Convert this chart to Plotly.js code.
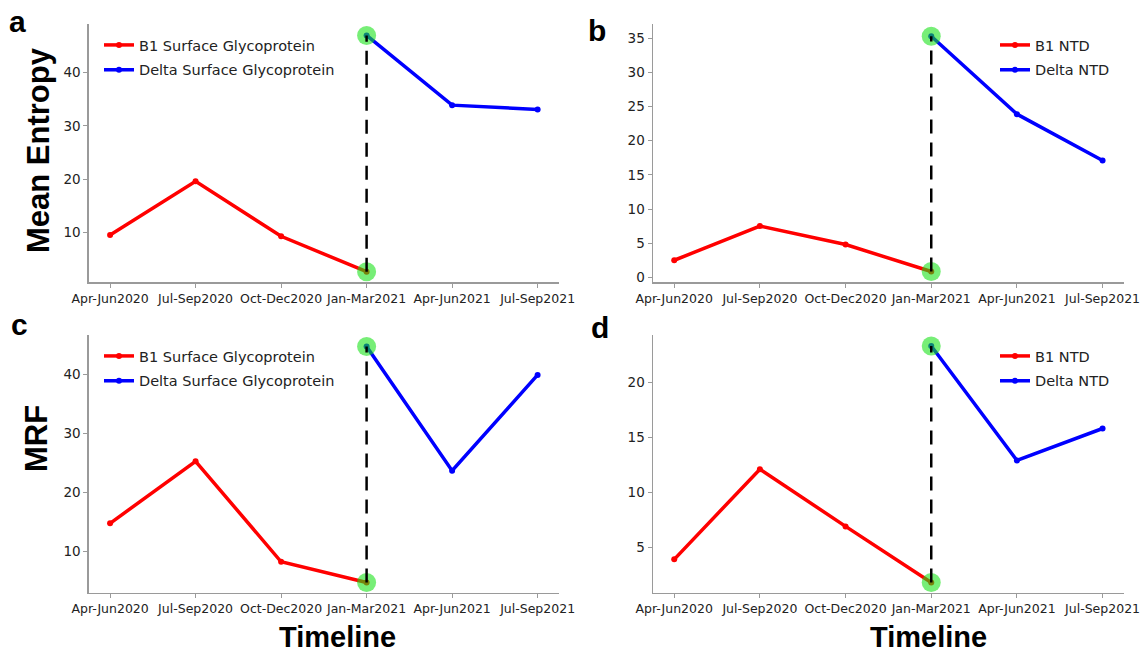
<!DOCTYPE html>
<html>
<head>
<meta charset="utf-8">
<script src="https://cdn.plot.ly/plotly-3.0.1.min.js"></script>
<style>html,body{margin:0;padding:0;background:#fff;}#chart{width:1140px;height:653px;}</style>
</head>
<body>
<div id="chart"></div>
<script>
// ---- data ----
const categories = ['Apr-Jun2020','Jul-Sep2020','Oct-Dec2020','Jan-Mar2021','Apr-Jun2021','Jul-Sep2021'];
const b1Periods = categories.slice(0, 4);
const deltaPeriods = categories.slice(3);
const transitionPeriod = 'Jan-Mar2021';

const entropyB1Surface = [9.5, 19.6, 9.25, 2.6];
const entropyDeltaSurface = [47.0, 33.9, 33.1];
const entropyB1NTD = [2.5, 7.5, 4.8, 0.85];
const entropyDeltaNTD = [35.3, 23.9, 17.1];
const mrfB1Surface = [14.8, 25.3, 8.3, 4.8];
const mrfDeltaSurface = [44.7, 23.7, 39.9];
const mrfB1NTD = [3.9, 12.1, 6.9, 1.8];
const mrfDeltaNTD = [23.3, 12.9, 15.8];

const seriesNamesSurface = ['B1 Surface Glycoprotein', 'Delta Surface Glycoprotein'];
const seriesNamesNTD = ['B1 NTD', 'Delta NTD'];

// ---- layout helpers ----
const W = 1140, H = 653;
const px = v => v / W;
const py = v => 1 - v / H;

const panels = [
  {b1: entropyB1Surface, delta: entropyDeltaSurface, names: seriesNamesSurface, xa: 'x', ya: 'y', legend: 'legend'},
  {b1: entropyB1NTD, delta: entropyDeltaNTD, names: seriesNamesNTD, xa: 'x2', ya: 'y2', legend: 'legend2'},
  {b1: mrfB1Surface, delta: mrfDeltaSurface, names: seriesNamesSurface, xa: 'x3', ya: 'y3', legend: 'legend3'},
  {b1: mrfB1NTD, delta: mrfDeltaNTD, names: seriesNamesNTD, xa: 'x4', ya: 'y4', legend: 'legend4'}
];

const traces = [];
panels.forEach((p, i) => {
  traces.push({
    x: b1Periods, y: p.b1, type: 'scatter', mode: 'lines+markers', name: p.names[0],
    line: {color: '#ff0000', width: 3.5}, marker: {color: '#ff0000', size: 6},
    xaxis: p.xa, yaxis: p.ya, legend: p.legend, legendgroup: 'g1_' + i, showlegend: true
  });
  traces.push({
    x: deltaPeriods, y: p.delta, type: 'scatter', mode: 'lines+markers', name: p.names[1],
    line: {color: '#0000ff', width: 3.5}, marker: {color: '#0000ff', size: 6},
    xaxis: p.xa, yaxis: p.ya, legend: p.legend, legendgroup: 'g2_' + i, showlegend: true
  });
});
panels.forEach((p, i) => {
  const lo = p.b1[p.b1.length - 1], hi = p.delta[0];
  traces.push({
    x: [transitionPeriod, transitionPeriod], y: [lo, hi], type: 'scatter', mode: 'markers',
    marker: {color: 'rgba(20,225,20,0.58)', size: 19, line: {width: 0}},
    xaxis: p.xa, yaxis: p.ya, showlegend: false, hoverinfo: 'skip'
  });
  traces.push({
    x: [transitionPeriod, transitionPeriod], y: [lo, hi], type: 'scatter', mode: 'lines',
    line: {color: '#000000', width: 2.5, dash: '14px,9px'},
    xaxis: p.xa, yaxis: p.ya, showlegend: false, hoverinfo: 'skip'
  });
});

const tickFont = {family: 'DejaVu Sans, sans-serif', size: 12.5, color: '#222'};
const yTickFont = {family: 'DejaVu Sans, sans-serif', size: 13.5, color: '#222'};
const legendFont = {family: 'DejaVu Sans, sans-serif', size: 14.5, color: '#222'};

function xaxis(domain, anchor) {
  return {
    domain: domain, anchor: anchor, type: 'category', categoryorder: 'array', categoryarray: categories,
    range: [-0.25, 5.25], showline: true, linecolor: '#9a9a9a', linewidth: 1.3, mirror: false,
    ticks: 'outside', ticklen: 4, tickcolor: '#9a9a9a', tickwidth: 1, showgrid: false, zeroline: false,
    tickfont: tickFont, tickangle: 0, fixedrange: true
  };
}
function yaxis(domain, anchor, range, dtick, tick0) {
  return {
    domain: domain, anchor: anchor, range: range, dtick: dtick, tick0: tick0,
    showline: true, linecolor: '#9a9a9a', linewidth: 1.3, mirror: false,
    ticks: 'outside', ticklen: 4, tickcolor: '#9a9a9a', tickwidth: 1, showgrid: false, zeroline: false,
    tickfont: yTickFont, fixedrange: true
  };
}

const xLeft = [px(88.7), px(559)], xRight = [px(652.8), px(1124)];
const yTop = [py(282.3), py(24)], yBot = [py(592.7), py(335)];

function legendAt(xp, yp) {
  return {x: px(xp), y: py(yp), xanchor: 'left', yanchor: 'top', bgcolor: 'rgba(0,0,0,0)',
    font: legendFont, traceorder: 'grouped', tracegroupgap: 3, itemwidth: 30};
}

const boldFont = (s) => ({family: 'Liberation Sans, Arial, sans-serif', size: s, color: '#000', weight: 'bold'});

const layout = {
  width: W, height: H, autosize: false,
  margin: {l: 0, r: 0, t: 0, b: 0},
  paper_bgcolor: '#fff', plot_bgcolor: '#fff',
  xaxis: xaxis(xLeft, 'y'), yaxis: yaxis(yTop, 'x', [0.6, 49.15], 10, 0),
  xaxis2: xaxis(xRight, 'y2'), yaxis2: yaxis(yTop, 'x2', [-0.73, 37.1], 5, 0),
  xaxis3: xaxis(xLeft, 'y3'), yaxis3: yaxis(yBot, 'x3', [3.07, 46.65], 10, 0),
  xaxis4: xaxis(xRight, 'y4'), yaxis4: yaxis(yBot, 'x4', [0.87, 24.3], 5, 0),
  legend: legendAt(99, 29),
  legend2: legendAt(995, 29),
  legend3: legendAt(99, 340),
  legend4: legendAt(995, 340),
  annotations: [
    {text: 'Mean Entropy', textangle: -90, x: px(38), y: py(150), xref: 'paper', yref: 'paper', showarrow: false, font: boldFont(31), xanchor: 'center', yanchor: 'middle'},
    {text: 'MRF', textangle: -90, x: px(36), y: py(439), xref: 'paper', yref: 'paper', showarrow: false, font: boldFont(31), xanchor: 'center', yanchor: 'middle'},
    {text: 'Timeline', x: px(337), y: py(637), xref: 'paper', yref: 'paper', showarrow: false, font: boldFont(29), xanchor: 'center', yanchor: 'middle'},
    {text: 'Timeline', x: px(928), y: py(637), xref: 'paper', yref: 'paper', showarrow: false, font: boldFont(29), xanchor: 'center', yanchor: 'middle'},
    {text: 'a', x: px(17), y: py(21), xref: 'paper', yref: 'paper', showarrow: false, font: boldFont(30), xanchor: 'center', yanchor: 'middle'},
    {text: 'b', x: px(597), y: py(30), xref: 'paper', yref: 'paper', showarrow: false, font: boldFont(30), xanchor: 'center', yanchor: 'middle'},
    {text: 'c', x: px(19), y: py(324), xref: 'paper', yref: 'paper', showarrow: false, font: boldFont(30), xanchor: 'center', yanchor: 'middle'},
    {text: 'd', x: px(600), y: py(328), xref: 'paper', yref: 'paper', showarrow: false, font: boldFont(30), xanchor: 'center', yanchor: 'middle'}
  ]
};

Plotly.newPlot('chart', traces, layout, {displayModeBar: false, staticPlot: true});
</script>
</body>
</html>
